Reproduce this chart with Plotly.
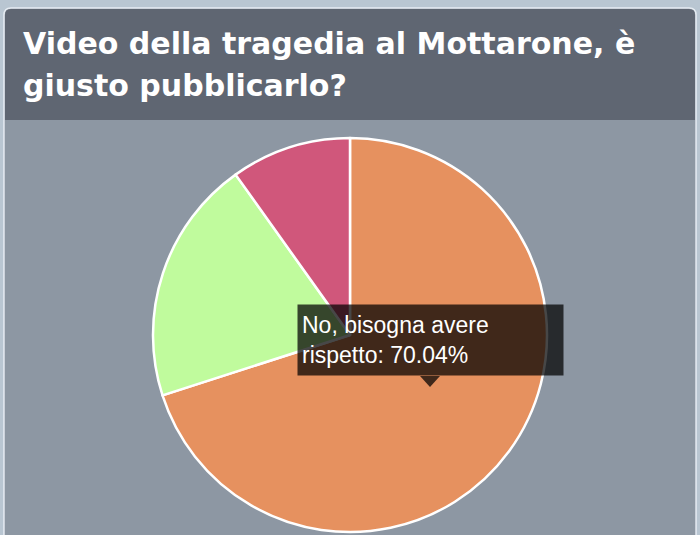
import plotly.graph_objects as go

# poll data
labels = ["No, bisogna avere rispetto", "Sì, è diritto di cronaca", "Non saprei"]
values = [70.04, 20.10, 9.86]
colors = ["#e6915f", "#c0fb9d", "#d0577b"]

title_lines = ["Video della tragedia al Mottarone, è", "giusto pubblicarlo?"]

W, H = 700, 535


def px(x):
    return x / W


def py(y):
    return 1 - y / H


def rounded_top(x0, y0, x1, y1, r):
    # rect path with rounded top corners, pixel coords -> paper
    return ("M {a} {b} L {a} {c} Q {a} {d} {e} {d} L {f} {d} Q {g} {d} {g} {c} "
            "L {g} {b} Z").format(a=px(x0), b=py(y1), c=py(y0 + r), d=py(y0),
                                  e=px(x0 + r), f=px(x1 - r), g=px(x1))


fig = go.Figure()

fig.add_trace(go.Pie(
    labels=labels,
    values=values,
    marker=dict(colors=colors, line=dict(color="white", width=2.5)),
    sort=False,
    direction="clockwise",
    rotation=0,
    textinfo="none",
    hoverinfo="label+percent",
    showlegend=False,
    domain=dict(x=[px(153), px(547)], y=[py(532), py(138)]),
))

# panel, header bar and outer frame
shapes = [
    dict(type="path", xref="paper", yref="paper", layer="below",
         path=rounded_top(4, 8, 696, 545, 7),
         fillcolor="#8d97a3", line=dict(color="rgba(240,245,250,0.85)", width=1.5)),
    dict(type="path", xref="paper", yref="paper", layer="below",
         path=rounded_top(5, 9, 695, 120, 6),
         fillcolor="#5f6672", line=dict(width=0)),
    # tooltip pointer
    dict(type="path", xref="paper", yref="paper",
         path="M {} {} L {} {} L {} {} Z".format(px(420), py(376), px(440), py(376), px(430), py(387)),
         fillcolor="rgba(0,0,0,0.72)", line=dict(width=0)),
]

# title, one annotation per line
for i, line in enumerate(title_lines):
    fig.add_annotation(
        xref="paper", yref="paper", x=px(21), y=py(24 + 42 * i),
        xanchor="left", yanchor="top",
        text=line, showarrow=False, align="left",
        font=dict(family="DejaVu Sans", size=30, color="white", weight="bold"),
    )

# static tooltip for the largest slice
tip = "{}<br>{}: {:.2f}%".format("No, bisogna avere", "rispetto", values[0])

fig.add_annotation(
    xref="paper", yref="paper", x=px(297), y=py(304),
    xanchor="left", yanchor="top",
    text=tip, showarrow=False, align="left", valign="middle",
    width=257, height=62, borderpad=4,
    bgcolor="rgba(0,0,0,0.72)",
    font=dict(family="Liberation Sans, Arial", size=23, color="white"),
)

fig.update_layout(
    width=W, height=H,
    margin=dict(l=0, r=0, t=0, b=0),
    paper_bgcolor="#b9c6d2",
    shapes=shapes,
)

fig.write_html("out.html", config={"displayModeBar": False},
               post_script="document.body.style.margin='0';")
